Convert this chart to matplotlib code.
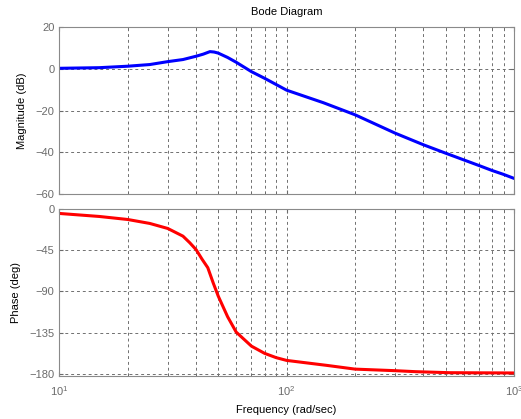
import matplotlib
matplotlib.use("Agg")
import matplotlib.pyplot as plt
import numpy as np
from matplotlib.ticker import LogLocator, NullFormatter

plt.rcParams["font.family"] = ["Liberation Sans", "DejaVu Sans"]
plt.rcParams["mathtext.default"] = "regular"

# magnitude response (rad/sec, dB)
mag_w = [10, 15, 20, 25, 30, 35, 40, 43, 46, 48, 50, 55, 60, 70, 80, 90, 100,
         145, 200, 300, 400, 500, 600, 700, 800, 900, 1000]
mag_db = [0.3, 0.6, 1.3, 2.1, 3.5, 4.5, 6.1, 7.1, 8.3, 8.1, 7.6, 5.5, 3.2,
          -1.3, -4.5, -7.5, -10.2, -16.2, -22.0, -30.8, -36.4, -40.4, -43.6,
          -46.3, -48.7, -50.6, -52.5]

# phase response (rad/sec, deg)
ph_w = [10, 15, 20, 25, 30, 35, 37.5, 40, 42.5, 45, 47.5, 50, 55, 60, 70, 80,
        90, 100, 150, 200, 300, 370, 520, 1000]
ph_deg = [-4.9, -8.2, -11.5, -15.8, -21.3, -29.7, -36.9, -44.5, -55.0, -64.1,
          -80.5, -95.0, -117.6, -134.4, -149.7, -157.6, -162.3, -165.3,
          -170.7, -174.8, -176.5, -177.6, -178.7, -179.0]

mag_ticks = [20, 0, -20, -40, -60]
ph_ticks = [0, -45, -90, -135, -180]

fig = plt.figure(figsize=(5.21, 4.19), dpi=100)
ax1 = fig.add_axes([0.1138, 0.537, 0.8727, 0.398])
ax2 = fig.add_axes([0.1138, 0.1033, 0.8727, 0.398])

gray = "#6b6b6b"

def style(ax):
    ax.set_xscale("log")
    ax.set_xlim(10, 1000)
    ax.xaxis.set_major_locator(LogLocator(base=10))
    ax.xaxis.set_minor_locator(LogLocator(base=10, subs=np.arange(2, 10)))
    ax.xaxis.set_minor_formatter(NullFormatter())
    ax.grid(True, which="both", axis="x", ls=(0, (3, 3)), color="#707070", lw=0.7)
    ax.grid(True, which="major", axis="y", ls=(0, (3, 3)), color="#707070", lw=0.7)
    ax.tick_params(which="both", direction="in", colors=gray, labelsize=8,
                   length=3, top=True, right=True)
    ax.tick_params(which="minor", length=2)
    for sp in ax.spines.values():
        sp.set_color("#8a8a8a")
        sp.set_linewidth(0.8)

style(ax1)
ax1.plot(mag_w, mag_db, color=(0, 0, 1), lw=2.2)
ax1.set_ylim(-60, 20)
ax1.set_yticks(mag_ticks)
ax1.tick_params(labelbottom=False)
ax1.set_ylabel("Magnitude (dB)", fontsize=8, labelpad=6)
ax1.set_title("Bode Diagram", fontsize=8, pad=9)

style(ax2)
ax2.plot(ph_w, ph_deg, color=(1, 0, 0), lw=2.2)
ax2.set_ylim(-182, 0)
ax2.set_yticks(ph_ticks)
ax2.tick_params(axis="x", pad=6)
ax2.set_ylabel("Phase (deg)", fontsize=8, labelpad=6)
ax2.set_xlabel("Frequency (rad/sec)", fontsize=8, labelpad=5)

fig.savefig("out.png", dpi=100)
